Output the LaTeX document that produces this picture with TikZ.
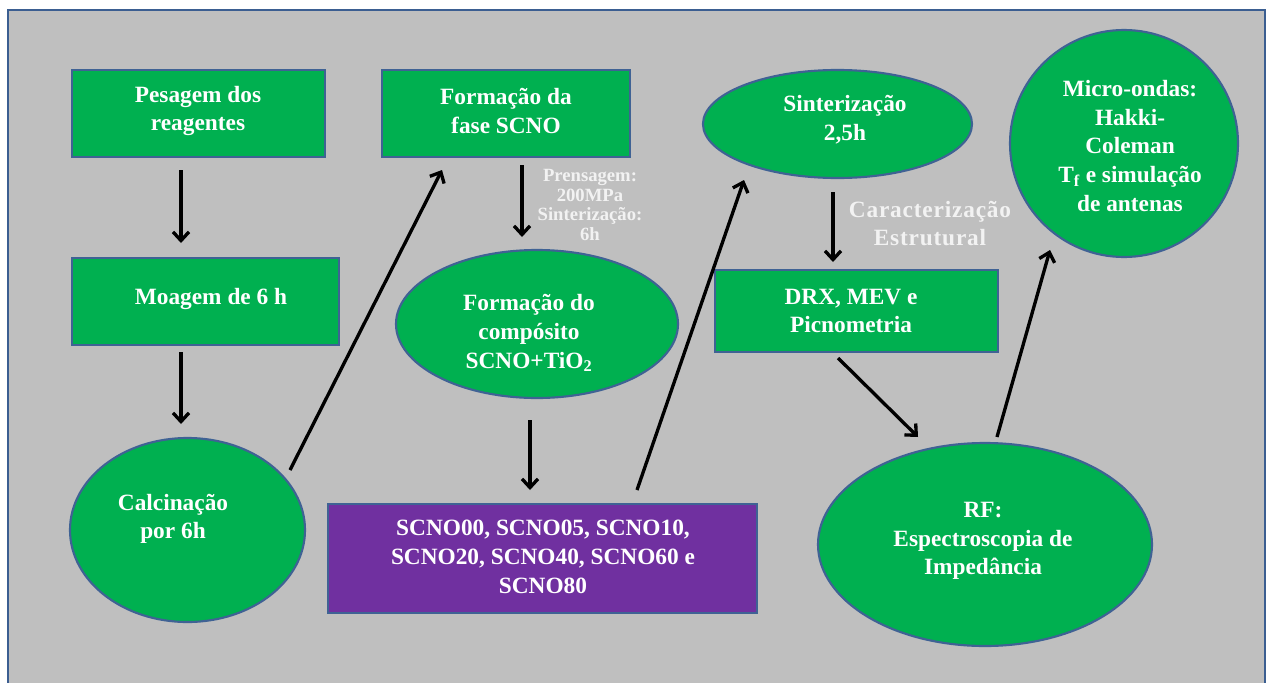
\documentclass[tikz,border=0pt]{standalone}
\usepackage{fontspec}
\setmainfont{Liberation Serif}
\usetikzlibrary{shapes.geometric,arrows.meta}
\definecolor{bg}{HTML}{BFBFBF}
\definecolor{grn}{HTML}{00B050}
\definecolor{pur}{HTML}{7030A0}
\definecolor{edgec}{HTML}{3F6294}
\definecolor{framec}{HTML}{3B5E91}
\definecolor{lbl}{HTML}{F2F2F2}
\begin{document}
\begin{tikzpicture}[x=0.75pt,y=-0.75pt,
 box/.style={draw=edgec,line width=1.6pt,fill=grn,rectangle,inner sep=0pt},
 oval/.style={draw=edgec,line width=1.6pt,fill=grn,ellipse,inner sep=0pt},
 txt/.style={text=white,font=\bfseries\fontsize{17.5}{21.5}\selectfont,align=center,inner sep=0pt},
 note/.style={text=lbl,font=\bfseries\fontsize{17.5}{21}\selectfont\addfontfeature{LetterSpace=3.5},align=center,inner sep=0pt},
 smallnote/.style={text=lbl,font=\bfseries\fontsize{14}{14.7}\selectfont,align=center,inner sep=0pt},
 flow/.style={line width=2.5pt,-{Straight Barb[length=6.5pt,width=12pt]}}]
\useasboundingbox (0,0) rectangle (1270,682);
\fill[white] (0,0) rectangle (1270,682);
\clip (0,0) rectangle (1270,682);
\draw[draw=framec,fill=bg,line width=1.5pt] (8,10) rectangle (1265,700);

% shapes
\node[box,minimum width=189.75pt,minimum height=65.25pt] (pes) at (198.5,113.5) {};
\node[txt] (pesT) at (198,111) {Pesagem dos\\reagentes};

\node[box,minimum width=200.25pt,minimum height=65.25pt] (moa) at (205.5,301.5) {};
\node[txt] (moaT) at (211,299) {Moagem de 6 h};

\node[oval,minimum width=176.25pt,minimum height=138pt] (cal) at (187.5,530) {};
\node[txt] (calT) at (173,519) {Calcinação\\por 6h};

\node[box,minimum width=186pt,minimum height=65.25pt] (fas) at (506,113.5) {};
\node[txt] (fasT) at (506,111) {Formação da\\fase SCNO};

\node[smallnote] (pren) at (590,205) {Prensagem:\\200MPa\\Sinterização:\\6h};

\node[oval,minimum width=211.5pt,minimum height=111pt] (comp) at (537,324) {};
\node[txt] (compT) at (529,333) {Formação do\\compósito\\SCNO+TiO\textsubscript{2}};

\node[draw=edgec,line width=1.6pt,fill=pur,rectangle,inner sep=0pt,minimum width=321.75pt,minimum height=81.75pt] (amo) at (542.5,558.5) {};
\node[txt] (amoT) at (543,557) {SCNO00, SCNO05, SCNO10,\\SCNO20, SCNO40, SCNO60 e\\SCNO80};

\node[oval,minimum width=201.75pt,minimum height=81pt] (sin) at (837.5,124) {};
\node[txt] (sinT) at (845,120) {Sinterização\\2,5h};

\node[note] (car) at (930,224) {Caracterização\\Estrutural};

\node[box,minimum width=212.25pt,minimum height=61.5pt] (drx) at (856.5,311) {};
\node[txt] (drxT) at (851,311) {DRX, MEV e\\Picnometria};

\node[oval,minimum width=250.5pt,minimum height=152.25pt] (rf) at (985,544.5) {};
\node[txt] (rfT) at (983,541) {RF:\\Espectroscopia de\\Impedância};

\node[oval,minimum width=171pt,minimum height=170.25pt] (mo) at (1124,143.5) {};
\node[txt] (moT) at (1130,146) {Micro-ondas:\\Hakki-\\Coleman\\T\textsubscript{f} e simulação\\de antenas};

% arrows
\coordinate (a1s) at (181,170); \coordinate (a1e) at (181,243);
\coordinate (a2s) at (181,352); \coordinate (a2e) at (181,424);
\coordinate (a3s) at (290,470); \coordinate (a3e) at (442,170);
\coordinate (a4s) at (522,165); \coordinate (a4e) at (522,237);
\coordinate (a5s) at (530,420); \coordinate (a5e) at (530,490);
\coordinate (a6s) at (637,490); \coordinate (a6e) at (744,180);
\coordinate (a7s) at (833,192); \coordinate (a7e) at (833,262);
\coordinate (a8s) at (838,358); \coordinate (a8e) at (918,437);
\coordinate (a9s) at (997,437); \coordinate (a9e) at (1050,250);
\draw[flow] (a1s) -- (a1e);
\draw[flow] (a2s) -- (a2e);
\draw[flow] (a3s) -- (a3e);
\draw[flow] (a4s) -- (a4e);
\draw[flow] (a5s) -- (a5e);
\draw[flow] (a6s) -- (a6e);
\draw[flow] (a7s) -- (a7e);
\draw[flow] (a8s) -- (a8e);
\draw[flow] (a9s) -- (a9e);
\end{tikzpicture}
\end{document}
